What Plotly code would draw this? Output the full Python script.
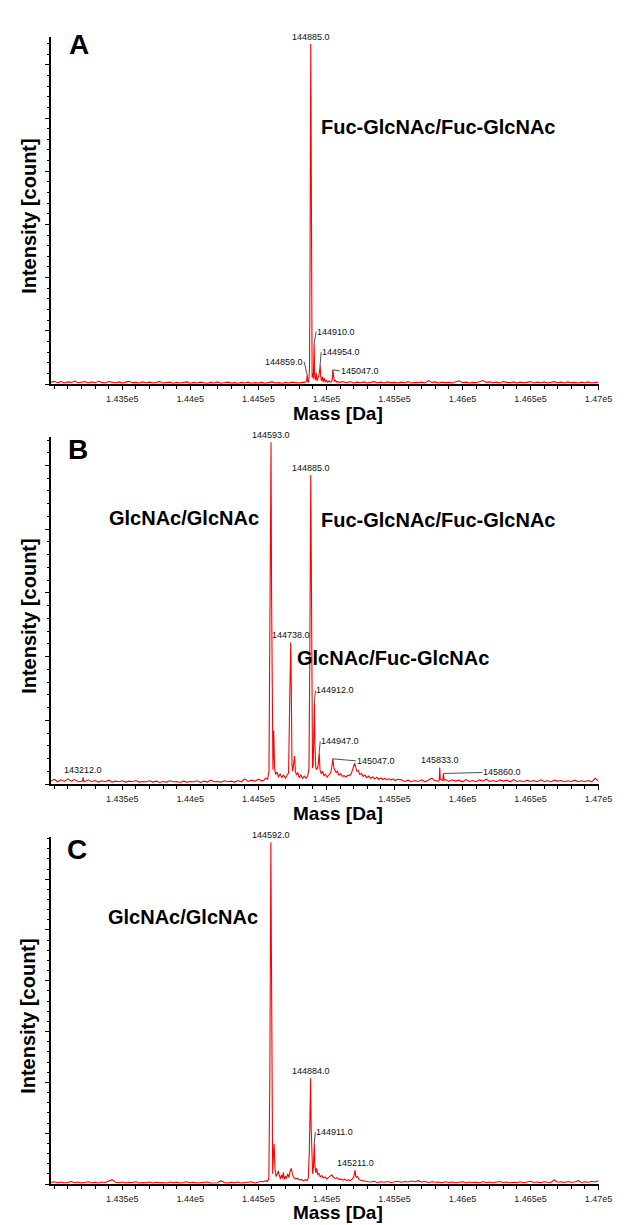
import numpy as np
import plotly.graph_objects as go

W, H = 637, 1225
STEP = 25  # baseline sampling step (Da)

# x axis
x_min, x_max = 142975, 147000
tick_vals = [143500, 144000, 144500, 145000, 145500, 146000, 146500, 147000]
tick_text = ["1.435e5", "1.44e5", "1.445e5", "1.45e5", "1.455e5", "1.46e5", "1.465e5", "1.47e5"]

# ---------------- panel A ----------------
a_left_start = 142975
a_left = [700, 1000, 500, 900, 400, 800, 600, 1100, 500, 700, 900, 400, 800, 500, 1000, 600, 400, 900, 700, 500,
          800, 400, 700, 1000, 500, 600, 400, 800, 500, 700, 400, 600, 900, 400, 500, 700, 300, 600, 400, 500,
          800, 300, 600, 400, 700, 500, 300, 600, 400, 800, 300, 500, 700, 400, 500, 300, 600, 400, 700, 300,
          500, 400, 600, 300, 500, 800, 400, 500, 300, 600, 400, 700, 500, 400, 600]
a_mass = [144840, 144848, 144855, 144859, 144863, 144870, 144876, 144880, 144883, 144885, 144888, 144891, 144895,
          144900, 144904, 144907, 144910, 144914, 144919, 144925, 144931, 144937, 144944, 144950, 144954, 144958,
          144964, 144971, 144977, 144984, 144992, 145000, 145010, 145020, 145030, 145038, 145043, 145047, 145052,
          145058, 145066, 145075, 145085, 145095, 145105]
a_int = [600, 900, 1200, 3400, 600, 900, 6000, 50000, 110000, 127800, 90000, 20000, 2500,
         4000, 2000, 8000, 15200, 3000, 1500, 4200, 1200, 2200, 3000, 5000, 7300, 3000,
         1200, 2800, 800, 2200, 700, 1500, 600, 1200, 700, 1000, 1500, 5300, 1800,
         1000, 1400, 700, 1000, 500, 800]
a_right_start = 145125
a_right = [800, 500, 900, 400, 700, 500, 800, 400, 600, 900, 500, 700, 400, 800, 500, 600, 400, 700, 500, 900,
           400, 600, 500, 700, 400, 1300, 600, 800, 400, 700, 500, 600, 400, 800, 1200, 500, 700, 400, 600, 500,
           900, 1300, 600, 800, 500, 700, 400, 900, 600, 500, 800, 400, 700, 500, 600, 900, 400, 700, 500, 800,
           400, 600, 900, 500, 700, 400, 800, 500, 600, 400, 700, 500, 800, 400, 600, 700]
a_extra_mass = []
a_extra_int = []
a_labels = [144885, 144910, 144954, 144859, 145047]

# ---------------- panel B ----------------
b_left_start = 142975
b_left = [900, 1500, 700, 1300, 800, 1600, 900, 1400, 700, 1000, 800, 1300, 700, 1100, 600, 1000, 700, 1200, 600, 900,
          700, 1000, 600, 900, 700, 1100, 600, 800, 700, 1000, 600, 900, 500, 800, 600, 1000, 700, 800, 500, 900,
          600, 800, 700, 1000, 500, 900, 600, 1200, 700, 800, 600, 1000, 700, 900, 600, 1100, 700, 1600, 800, 1200,
          900, 1500, 1000]
b_mass = [144540, 144555, 144568, 144578, 144585, 144589, 144593, 144597, 144602, 144607,
          144613, 144619, 144627, 144637, 144648, 144660, 144672, 144685, 144698, 144710,
          144722, 144730, 144735, 144738, 144742, 144747, 144753, 144760, 144766, 144772,
          144780, 144790, 144800, 144812, 144825, 144838, 144850, 144862, 144872, 144878,
          144882, 144885, 144889, 144893, 144898, 144903, 144908, 144912, 144916, 144922,
          144930, 144940, 144947, 144953, 144962, 144972, 144982, 144992, 145005, 145020,
          145032, 145040, 145047, 145055, 145063, 145072, 145082, 145092, 145105, 145118,
          145130, 145145, 145158, 145170, 145182, 145192, 145200, 145208, 145216, 145225,
          145235, 145245, 145258, 145270, 145283, 145296, 145310, 145325, 145340, 145355,
          145370, 145385, 145400, 145415, 145430, 145445, 145460, 145475, 145490, 145505,
          145520]
b_int = [1200, 1800, 1500, 4000, 40000, 80000, 107300, 60000, 12000, 4500,
         16700, 5000, 3000, 3800, 2200, 3200, 2000, 2800, 1800, 2600,
         3500, 25000, 38000, 44500, 30000, 6000, 4000, 6500, 8800, 4000,
         2800, 3600, 2000, 2800, 1800, 2500, 1800, 2400, 5000, 40000,
         80000, 97000, 70000, 15000, 5000, 6000, 18000, 25600, 12000, 5000,
         4500, 6000, 9900, 4500, 3200, 4000, 2600, 3000, 2200, 2800,
         3500, 5500, 7900, 5000, 4500, 3600, 4000, 2800, 3200, 2400,
         2600, 2200, 2800, 2600, 3200, 4500, 5800, 6500, 5200, 4000,
         4200, 3000, 3300, 2400, 2800, 2000, 2500, 1800, 2200, 1600,
         2100, 1500, 1900, 1400, 1800, 1300, 1700, 1200, 1600, 1100,
         1500]
b_right_start = 145550
b_right = [1300, 800, 1200, 700, 1100, 800, 1300, 700, 1200, 1800, 1000, 900, 1000, 1400, 800, 1300, 900, 1200, 700, 1400,
           800, 1100, 700, 1300, 900, 1500, 800, 1100, 700, 1300, 900, 1200, 700, 1400, 800, 1000, 700, 1200, 800, 1100,
           700, 1300, 800, 1000, 700, 1200, 900, 1100, 700, 1000, 800, 1200, 700, 1000, 800, 1100, 700, 1800, 900]
b_extra_mass = [143207, 143212, 143217, 145829, 145833, 145837, 145855, 145860, 145865]
b_extra_int = [900, 2100, 800, 1200, 5200, 1500, 1100, 3300, 1200]
b_labels = [144593, 144885, 144738, 144912, 144947, 145047, 145833, 145860, 143212]

# ---------------- panel C ----------------
c_left_start = 142975
c_left = [600, 900, 500, 800, 400, 700, 1000, 500, 800, 400, 600, 900, 500, 700, 400, 800, 600, 1000, 1700, 700,
          500, 800, 400, 700, 600, 900, 400, 600, 500, 800, 400, 700, 500, 600, 400, 800, 500, 700, 400, 600,
          900, 500, 700, 400, 600, 500, 800, 400, 600, 500, 1300, 600, 400, 700, 500, 800, 400, 600, 500, 900,
          400, 700, 1100]
c_mass = [144540, 144555, 144568, 144577, 144584, 144588, 144592, 144596, 144600, 144605,
          144611, 144616, 144622, 144630, 144638, 144646, 144654, 144662, 144670, 144678,
          144684, 144691, 144699, 144707, 144715, 144724, 144733, 144742, 144750, 144760,
          144772, 144786, 144800, 144815, 144830, 144845, 144858, 144867, 144874, 144879,
          144884, 144888, 144893, 144899, 144905, 144911, 144916, 144922, 144928, 144936,
          144945, 144955, 144966, 144978, 144990, 145003, 145016, 145028, 145040, 145052,
          145064, 145078, 145092, 145106, 145120, 145134, 145148, 145162, 145176, 145190,
          145200, 145206, 145211, 145216, 145222, 145230, 145240, 145252, 145265, 145280,
          145295, 145310]
c_int = [900, 1300, 1000, 2500, 40000, 100000, 134500, 90000, 25000, 4000,
         12000, 15700, 6000, 3000, 3800, 5200, 3500, 2000, 3600, 2200,
         4600, 1800, 3000, 2200, 4000, 2600, 5000, 6200, 3800, 2600,
         2000, 2300, 1600, 1800, 1300, 1700, 1400, 2500, 12000, 30000,
         41600, 22000, 6000, 4000, 7000, 16000, 7000, 4500, 6200, 3800,
         4200, 2800, 3300, 2400, 2800, 2000, 2600, 3000, 3600, 2600,
         2200, 2500, 1800, 2000, 1500, 1900, 1400, 1700, 1300, 2000,
         2600, 4000, 5500, 3000, 2600, 3000, 1800, 1500, 1300, 1100,
         1000, 900]
c_right_start = 145325
c_right = [800, 1100, 600, 900, 700, 1000, 600, 800, 1100, 700, 1000, 800, 1200, 900, 1300, 800, 1000, 600, 900, 700,
           800, 500, 900, 600, 800, 500, 700, 900, 500, 800, 600, 700, 500, 900, 600, 800, 500, 700, 1000, 600,
           800, 500, 700, 600, 900, 500, 700, 1100, 600, 800, 500, 900, 700, 600, 1600, 700, 900, 600, 1000, 700,
           800, 1300, 600, 900, 700, 1000, 800, 1300]
c_extra_mass = []
c_extra_int = []
c_labels = [144592, 144884, 144911, 145211]

# text
panel_letters = ["A", "B", "C"]
x_title = "Mass [Da]"
y_title = "Intensity [count]"
glycoforms = {
    "A": ["Fuc-GlcNAc/Fuc-GlcNAc"],
    "B": ["GlcNAc/GlcNAc", "Fuc-GlcNAc/Fuc-GlcNAc", "GlcNAc/Fuc-GlcNAc"],
    "C": ["GlcNAc/GlcNAc"],
}

FONT = "Liberation Sans, Arial, sans-serif"


def spectrum(left_start, left, mass, inten, right_start, right, extra_mass, extra_int):
    assert len(mass) == len(inten) and len(extra_mass) == len(extra_int)
    xs = np.concatenate([left_start + STEP * np.arange(len(left)), mass,
                         right_start + STEP * np.arange(len(right)), extra_mass])
    ys = np.concatenate([left, inten, right, extra_int])
    order = np.argsort(xs, kind="stable")
    return xs[order], ys[order]


panels = [
    spectrum(a_left_start, a_left, a_mass, a_int, a_right_start, a_right, a_extra_mass, a_extra_int),
    spectrum(b_left_start, b_left, b_mass, b_int, b_right_start, b_right, b_extra_mass, b_extra_int),
    spectrum(c_left_start, c_left, c_mass, c_int, c_right_start, c_right, c_extra_mass, c_extra_int),
]
labels = [a_labels, b_labels, c_labels]

# layout geometry (pixels in the 637x1225 figure)
plot_left, plot_right = 52, 612
panel_top = [37, 437, 837]
panel_base = [384, 784, 1184]
y_top = [130450, 108950, 136600]
x_title_y = [413, 813, 1212]

# leader-line placement for labels (ax, ay, xanchor); others sit centred above the peak
leaders = [
    {144910: (2, -12, "left"), 144954: (1, -12.5, "left"), 144859: (-3, -13, "right"), 145047: (7, 1, "left")},
    {144912: (1, -12, "left"), 144947: (1, -11, "left"), 145047: (23, 2, "left"), 145860: (39, -1, "left")},
    {144911: (1, -11, "left")},
]

# glycoform label positions: (left px, centre y px)
glyco_pos = {
    "A": [(326, 127)],
    "B": [(109, 518), (326, 520), (302, 658)],
    "C": [(108, 917)],
}
letter_pos = [(81, 45), (80, 450), (79, 849)]


def px(x):
    return x / W


def py(y):
    return 1 - y / H


fig = go.Figure()
annotations = []
layout = {}

for i, (xs, ys) in enumerate(panels):
    n = "" if i == 0 else str(i + 1)
    xa, ya = "x" + n, "y" + n
    fig.add_trace(go.Scatter(x=xs, y=ys, mode="lines", xaxis=xa, yaxis=ya,
                             line=dict(color="#ff0000", width=1.1), showlegend=False,
                             hoverinfo="skip"))

    layout["xaxis" + n] = dict(
        domain=[px(plot_left), px(plot_right)], anchor=ya, range=[x_min, x_max],
        tickmode="array", tickvals=tick_vals, ticktext=tick_text,
        ticks="outside", ticklen=4, tickwidth=1, tickcolor="black",
        minor=dict(tickmode="linear", tick0=143000, dtick=100, ticks="outside",
                   ticklen=3, tickwidth=1, tickcolor="black"),
        showline=True, linecolor="black", linewidth=1.5, showgrid=False, zeroline=False,
        tickfont=dict(family=FONT, size=9, color="#222"), layer="below traces",
        ticklabelstandoff=1,
    )
    layout["yaxis" + n] = dict(
        domain=[py(panel_base[i]), py(panel_top[i])], anchor=xa, range=[0, y_top[i]],
        showticklabels=False, tickmode="linear", tick0=0, dtick=20000,
        ticks="outside", ticklen=4, tickwidth=1, tickcolor="black",
        minor=dict(tickmode="linear", tick0=0, dtick=4000, ticks="outside",
                   ticklen=2, tickwidth=1, tickcolor="black"),
        showline=True, linecolor="black", linewidth=1.5, showgrid=False, zeroline=False,
        layer="below traces",
    )

    # peak labels
    lookup = dict(zip(xs.tolist(), ys.tolist()))
    for m in labels[i]:
        txt = f"{m:.1f}"
        base = dict(x=m, y=lookup[m], xref=xa, yref=ya, text=txt,
                    font=dict(family=FONT, size=9, color="#111"))
        if m in leaders[i]:
            ax, ay, anc = leaders[i][m]
            base.update(showarrow=True, ax=ax, ay=ay, xanchor=anc, yanchor="middle",
                        arrowhead=0, arrowwidth=0.8, arrowcolor="#222",
                        standoff=0, startstandoff=0, borderpad=0)
        else:
            base.update(showarrow=False, xanchor="center", yanchor="bottom", yshift=0)
        annotations.append(base)

    # panel letter
    letter = panel_letters[i]
    lx, ly = letter_pos[i]
    annotations.append(dict(x=px(lx), y=py(ly), xref="paper", yref="paper",
                            text=f"<b>{letter}</b>", showarrow=False,
                            xanchor="center", yanchor="middle",
                            font=dict(family=FONT, size=28, color="black")))

    # glycoform labels
    for name, (gx, gy) in zip(glycoforms[letter], glyco_pos[letter]):
        annotations.append(dict(x=px(gx), y=py(gy), xref="paper", yref="paper",
                                text=f"<b>{name}</b>", showarrow=False,
                                xanchor="left", yanchor="middle",
                                font=dict(family=FONT, size=20, color="black")))

    # axis titles
    annotations.append(dict(x=px(346), y=py(x_title_y[i]), xref="paper", yref="paper",
                            text=f"<b>{x_title}</b>", showarrow=False,
                            xanchor="center", yanchor="middle", borderpad=0,
                            font=dict(family=FONT, size=19, color="black")))
    annotations.append(dict(x=px(29), y=py((panel_top[i] + panel_base[i]) / 2 + 5),
                            xref="paper", yref="paper",
                            text=f"<b>{y_title}</b>", showarrow=False, textangle=-90,
                            xanchor="center", yanchor="middle",
                            font=dict(family=FONT, size=20, color="black")))

fig.update_layout(
    width=W, height=H,
    margin=dict(l=0, r=0, t=0, b=0),
    paper_bgcolor="white", plot_bgcolor="white",
    annotations=annotations,
    **layout,
)

# remove the default page margin so the figure sits at the window's top-left corner
fig.write_html("out.html", config={"displayModeBar": False},
               post_script="document.body.style.margin='0';document.body.style.padding='0';")
